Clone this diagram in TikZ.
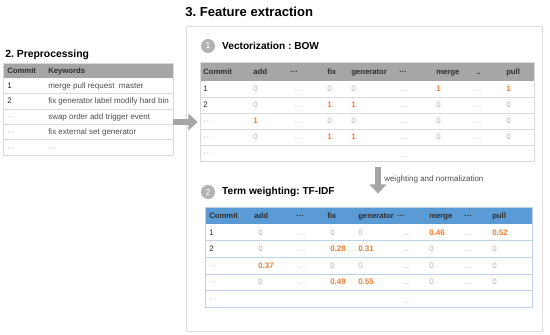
\documentclass[tikz,border=0pt]{standalone}
\usepackage{fontspec}
\setmainfont{Liberation Sans}
\usetikzlibrary{calc,positioning,arrows.meta,fit}
\definecolor{FeatGray}{RGB}{166,166,166}
\definecolor{FeatBlue}{RGB}{91,155,213}
\definecolor{FeatOrange}{RGB}{237,125,49}
\definecolor{FeatMuted}{RGB}{178,178,178}
\definecolor{FeatInk}{RGB}{45,45,45}
\definecolor{FeatLine}{RGB}{217,217,217}
\definecolor{FeatBlueLine}{RGB}{190,212,230}
\definecolor{FeatFrame}{RGB}{222,222,222}
\newcommand\celldots{....}
\newcommand\middots{···}
\frenchspacing

\begin{document}
\begin{tikzpicture}[x=0.75pt,y=-0.75pt,
    hd/.style={anchor=base west,inner sep=0pt,font=\fontsize{5.8}{7}\selectfont\bfseries,text=FeatInk},
    idc/.style={anchor=base west,inner sep=0pt,font=\fontsize{6}{7}\selectfont,text=FeatInk},
    kwc/.style={anchor=base west,inner sep=0pt,font=\fontsize{6}{7}\selectfont,text=FeatInk!85},
    zc/.style={anchor=base west,inner sep=0pt,font=\fontsize{6}{7}\selectfont,text=FeatMuted},
    dotc/.style={anchor=base west,inner sep=0pt,font=\fontsize{5}{6}\selectfont,text=FeatMuted},
    hot/.style={anchor=base west,inner sep=0pt,font=\fontsize{6}{7}\selectfont\bfseries,text=FeatOrange},
    tablebox/.style={draw=FeatLine,line width=0.6pt,inner sep=0pt},
    stepnum/.style={circle,fill=FeatMuted,text=white,minimum size=10.5pt,inner sep=0pt,font=\fontsize{6.5}{7}\selectfont},
    steptitle/.style={anchor=west,inner sep=0pt,font=\fontsize{7.6}{9}\selectfont\bfseries,text=black},
    bigarrow/.style={draw=FeatGray,line width=5pt,-{Triangle[length=7pt,width=12.5pt]}}]
  \useasboundingbox (0,0) rectangle (550,335);

  \node[draw=FeatFrame,line width=0.6pt,inner sep=0pt,fit={(186,26)(542,331)}] (featbox) {};
  \node[anchor=base west,inner sep=0pt,font=\fontsize{9.8}{11}\selectfont\bfseries] (t3) at (185,16.5) {3. Feature extraction};
  \node[anchor=base west,inner sep=0pt,font=\fontsize{7.8}{9}\selectfont\bfseries] (t2) at (5,57.5) {2. Preprocessing};

  % preprocessing table
  \fill[FeatGray] (3,63) rectangle (173,78);
  \foreach \y in {93.4,108.8,124.2,139.6} \draw[FeatLine] (3,\y) -- (173,\y);
  \node[tablebox,fit={(3,63)(173,155)}] (prep) {};
  \node[hd] (prep-h1) at (7,73.3) {Commit};
  \node[hd] (prep-h2) at (48,73.3) {Keywords};
  \foreach \y/\id/\s/\kw/\t [count=\r] in {88.5/1/idc/merge pull request~ master/kwc,
      103.9/2/idc/fix generator label modify hard bin/kwc,
      119.3/\middots/zc/swap order add trigger event/kwc,
      134.7/\middots/zc/fix external set generator/kwc,
      150.1/\middots/zc/\middots/zc} {
    \node[\s] (prep-\r-1) at (7,\y) {\id};
    \node[\t] (prep-\r-2) at (48,\y) {\kw};
  }

  % vectorization
  \node[stepnum] (s1) at (208,46) {1};
  \node[steptitle,right=5pt of s1] (s1t) {Vectorization : BOW};

  \fill[FeatGray] (200,62) rectangle (534,81);
  \foreach \y in {97,113,129,145} \draw[FeatLine] (200,\y) -- (534,\y);
  \node[tablebox,fit={(200,62)(534,161)}] (bow) {};
  \foreach \x/\h [count=\c] in {203/Commit,253/add,290/\middots,327/fix,351/generator,399/\middots,436/merge,476/..,506/pull}
    \node[hd] (bow-h\c) at (\x,74.3) {\h};
  \foreach \x/\v/\s [count=\c] in {203/1/idc,253/0/zc,293/\celldots/dotc,327/0/zc,351/0/zc,399/\celldots/dotc,436/1/hot,474/\celldots/dotc,506/1/hot}
    \node[\s] (bow-1-\c) at (\x,91.8) {\v};
  \foreach \x/\v/\s [count=\c] in {203/2/idc,253/0/zc,293/\celldots/dotc,327/1/hot,351/1/hot,399/\celldots/dotc,436/0/zc,474/\celldots/dotc,506/0/zc}
    \node[\s] (bow-2-\c) at (\x,107.8) {\v};
  \foreach \x/\v/\s [count=\c] in {203/\middots/zc,253/1/hot,293/\celldots/dotc,327/0/zc,351/0/zc,399/\celldots/dotc,436/0/zc,474/\celldots/dotc,506/0/zc}
    \node[\s] (bow-3-\c) at (\x,123.8) {\v};
  \foreach \x/\v/\s [count=\c] in {203/\middots/zc,253/0/zc,293/\celldots/dotc,327/1/hot,351/1/hot,399/\celldots/dotc,436/0/zc,474/\celldots/dotc,506/0/zc}
    \node[\s] (bow-4-\c) at (\x,139.8) {\v};
  \node[zc] (bow-5-1) at (203,155.8) {\middots};
  \node[dotc] (bow-5-2) at (399,157) {\celldots};

  % term weighting
  \node[stepnum] (s2) at (208,192) {2};
  \node[steptitle,right=5pt of s2] (s2t) {Term weighting: TF-IDF};

  \fill[FeatBlue] (205,207) rectangle (532,224);
  \foreach \y in {240.6,257.2,273.8,290.4} \draw[FeatBlueLine] (205,\y) -- (532,\y);
  \node[tablebox,draw=FeatBlueLine,fit={(205,207)(532,307)}] (tfidf) {};
  \foreach \x/\h [count=\c] in {209/Commit,254/add,296/\middots,327/fix,358/generator,397/\middots,429/merge,464/\middots,492/pull}
    \node[hd] (tfidf-h\c) at (\x,218.3) {\h};
  \foreach \x/\v/\s [count=\c] in {209/1/idc,258/0/zc,298/\celldots/dotc,330/0/zc,358/0/zc,403/\celldots/dotc,429/0.46/hot,465/\celldots/dotc,492/0.52/hot}
    \node[\s] (tfidf-1-\c) at (\x,235.1) {\v};
  \foreach \x/\v/\s [count=\c] in {209/2/idc,258/0/zc,298/\celldots/dotc,330/0.28/hot,358/0.31/hot,403/\celldots/dotc,429/0/zc,465/\celldots/dotc,492/0/zc}
    \node[\s] (tfidf-2-\c) at (\x,251.7) {\v};
  \foreach \x/\v/\s [count=\c] in {209/\middots/zc,258/0.37/hot,298/\celldots/dotc,330/0/zc,358/0/zc,403/\celldots/dotc,429/0/zc,465/\celldots/dotc,492/0/zc}
    \node[\s] (tfidf-3-\c) at (\x,268.3) {\v};
  \foreach \x/\v/\s [count=\c] in {209/\middots/zc,258/0/zc,298/\celldots/dotc,330/0.49/hot,358/0.55/hot,403/\celldots/dotc,429/0/zc,465/\celldots/dotc,492/0/zc}
    \node[\s] (tfidf-4-\c) at (\x,284.9) {\v};
  \node[zc] (tfidf-5-1) at (209,301.5) {\middots};
  \node[dotc] (tfidf-5-2) at (403,303) {\celldots};

  % arrows between steps
  \draw[bigarrow] ($(prep.east)+(0,13)$) -- ($(bow.west)+(-2,10.5)$);
  \draw[bigarrow] ($(bow.south)+(11,6)$) -- ($(tfidf.north)+(9.5,-13)$);
  \node[kwc] (wlbl) at (384,181) {weighting and normalization};
\end{tikzpicture}
\end{document}
